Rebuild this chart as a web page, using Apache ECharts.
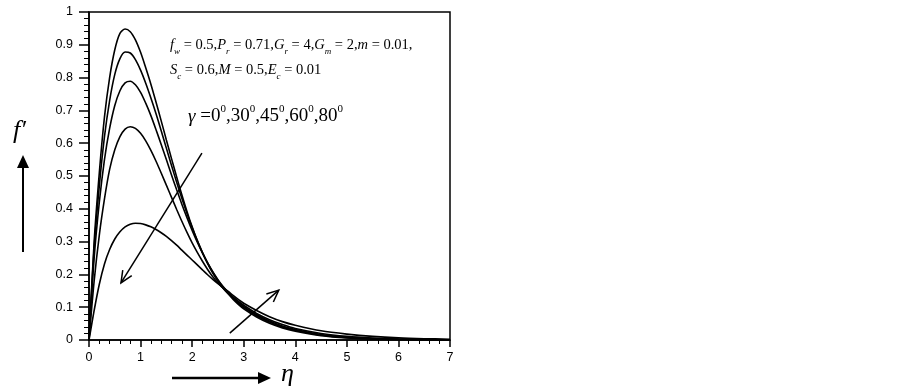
<!DOCTYPE html>
<html>
<head>
<meta charset="utf-8">
<style>html,body{margin:0;padding:0;background:#fff;}#c{width:903px;height:388px;}</style>
<script src="https://cdn.jsdelivr.net/npm/echarts@6/dist/echarts.min.js"></script>
</head>
<body>
<div id="c"></div>
<script>
// eta grid (x values)
var eta = [0, 0.1, 0.2, 0.3, 0.4, 0.5, 0.6, 0.7, 0.8, 0.9, 1.0, 1.1, 1.2, 1.3, 1.4, 1.5, 1.6, 1.7, 1.8, 1.9, 2.0, 2.1, 2.2, 2.3, 2.4, 2.5, 2.6, 2.7, 2.8, 2.9, 3.0, 3.25, 3.5, 3.75, 4.0, 4.5, 5.0, 5.5, 6.0, 6.5, 7.0];
// f' values for gamma = 0, 30, 45, 60, 80 degrees
var g0  = [0, 0.30, 0.51, 0.68, 0.80, 0.885, 0.935, 0.948, 0.94, 0.915, 0.877, 0.83, 0.78, 0.725, 0.668, 0.61, 0.553, 0.497, 0.443, 0.392, 0.345, 0.303, 0.266, 0.233, 0.204, 0.179, 0.158, 0.14, 0.123, 0.108, 0.095, 0.07, 0.051, 0.037, 0.027, 0.013, 0.006, 0.003, 0.0015, 0.0006, 0];
var g30 = [0, 0.28, 0.47, 0.62, 0.73, 0.81, 0.858, 0.878, 0.875, 0.855, 0.823, 0.783, 0.738, 0.69, 0.638, 0.585, 0.532, 0.481, 0.432, 0.386, 0.343, 0.303, 0.267, 0.235, 0.207, 0.182, 0.161, 0.143, 0.127, 0.112, 0.099, 0.074, 0.055, 0.04, 0.03, 0.015, 0.007, 0.0035, 0.0018, 0.0008, 0];
var g45 = [0, 0.25, 0.42, 0.55, 0.645, 0.715, 0.76, 0.784, 0.789, 0.778, 0.755, 0.722, 0.684, 0.641, 0.596, 0.55, 0.503, 0.458, 0.414, 0.373, 0.334, 0.298, 0.265, 0.235, 0.208, 0.184, 0.163, 0.145, 0.129, 0.115, 0.102, 0.077, 0.058, 0.043, 0.032, 0.017, 0.009, 0.0045, 0.0023, 0.001, 0];
var g60 = [0, 0.18, 0.32, 0.43, 0.52, 0.58, 0.62, 0.643, 0.65, 0.645, 0.63, 0.607, 0.578, 0.545, 0.509, 0.472, 0.435, 0.398, 0.362, 0.328, 0.296, 0.267, 0.24, 0.215, 0.193, 0.174, 0.158, 0.144, 0.13, 0.118, 0.106, 0.081, 0.062, 0.047, 0.035, 0.02, 0.011, 0.006, 0.003, 0.0014, 0.0005];
var g80 = [0, 0.09, 0.17, 0.232, 0.276, 0.308, 0.33, 0.345, 0.353, 0.356, 0.355, 0.351, 0.345, 0.337, 0.327, 0.316, 0.303, 0.289, 0.274, 0.259, 0.244, 0.229, 0.214, 0.199, 0.185, 0.172, 0.16, 0.148, 0.135, 0.123, 0.112, 0.09, 0.071, 0.056, 0.045, 0.028, 0.018, 0.011, 0.0065, 0.004, 0.0025];
var xTicks = ['0', '1', '2', '3', '4', '5', '6', '7'];
var yTicks = ['0', '0.1', '0.2', '0.3', '0.4', '0.5', '0.6', '0.7', '0.8', '0.9', '1'];
// annotation arrows inside the plot: [x1, y1, x2, y2] in data units (tail -> head)
var arrows = [[2.19, 0.57, 0.62, 0.174], [2.73, 0.021, 3.68, 0.152]];

function pairs(ys) { return eta.map(function (x, i) { return [x, ys[i]]; }); }
function curve(name, ys) {
  return { name: name, type: 'line', data: pairs(ys), smooth: 0.3, showSymbol: false, symbol: 'none',
    lineStyle: { color: '#000', width: 1.6 }, z: 3, silent: true };
}
var chart = echarts.init(document.getElementById('c'), null, { renderer: 'canvas' });
var serif = 'Liberation Serif';
function mkRich(fs) {
  return {
    i: { fontFamily: serif, fontStyle: 'italic', fontSize: fs, lineHeight: fs + 6, color: '#000' },
    n: { fontFamily: serif, fontSize: fs, lineHeight: fs + 6, color: '#000' },
    s: { fontFamily: serif, fontStyle: 'italic', fontSize: Math.round(fs * 0.62), lineHeight: fs + 6, verticalAlign: 'bottom', color: '#000' },
    u: { fontFamily: serif, fontSize: Math.round(fs * 0.6), lineHeight: fs + 6, verticalAlign: 'top', color: '#000' }
  };
}
chart.setOption({
  animation: false,
  backgroundColor: '#fff',
  grid: { left: 89, top: 12, right: 453, bottom: 48, show: true, borderColor: '#000', borderWidth: 1.5, containLabel: false },
  xAxis: {
    type: 'value', min: 0, max: 7, interval: 1,
    axisLine: { lineStyle: { color: '#000', width: 1.5 } },
    axisTick: { show: true, length: 7, lineStyle: { color: '#000', width: 1.5 } },
    minorTick: { show: true, splitNumber: 5, length: 4, lineStyle: { color: '#000', width: 1 } },
    splitLine: { show: false },
    axisLabel: { color: '#000', fontFamily: 'Liberation Sans', fontSize: 12.5, margin: 11,
      formatter: function (v) { return xTicks[Math.round(v)]; } }
  },
  yAxis: {
    type: 'value', min: 0, max: 1, interval: 0.1,
    axisLine: { lineStyle: { color: '#000', width: 1.5 } },
    axisTick: { show: true, length: 10, lineStyle: { color: '#000', width: 1.5 } },
    minorTick: { show: true, splitNumber: 5, length: 5, lineStyle: { color: '#000', width: 1 } },
    splitLine: { show: false },
    axisLabel: { color: '#000', fontFamily: 'Liberation Sans', fontSize: 12.5, margin: 16,
      formatter: function (v) { return yTicks[Math.round(v * 10)]; } }
  },
  series: [
    curve('γ=0°', g0), curve('γ=30°', g30), curve('γ=45°', g45), curve('γ=60°', g60), curve('γ=80°', g80),
    {
      type: 'custom', data: arrows, silent: true, z: 4,
      renderItem: function (params, api) {
        var a = api.coord([api.value(0), api.value(1)]);
        var b = api.coord([api.value(2), api.value(3)]);
        var ang = Math.atan2(b[1] - a[1], b[0] - a[0]);
        var L = 13, w = 0.42;
        var h1 = [b[0] - L * Math.cos(ang - w), b[1] - L * Math.sin(ang - w)];
        var h2 = [b[0] - L * Math.cos(ang + w), b[1] - L * Math.sin(ang + w)];
        return { type: 'group', children: [
          { type: 'line', shape: { x1: a[0], y1: a[1], x2: b[0], y2: b[1] }, style: { stroke: '#000', lineWidth: 1.5 } },
          { type: 'polyline', shape: { points: [h1, b, h2] }, style: { stroke: '#000', fill: null, lineWidth: 1.5 } }
        ] };
      }
    }
  ],
  graphic: [
    { type: 'text', left: 170, top: 38, style: { rich: mkRich(14.5),
      text: '{i|f}{s|w}{n| = 0.5,}{i|P}{s|r}{n| = 0.71,}{i|G}{s|r}{n| = 4,}{i|G}{s|m}{n| = 2,}{i|m}{n| = 0.01,}' } },
    { type: 'text', left: 170, top: 63, style: { rich: mkRich(14.5),
      text: '{i|S}{s|c}{n| = 0.6,}{i|M}{n| = 0.5,}{i|E}{s|c}{n| = 0.01}' } },
    { type: 'text', left: 188, top: 104, style: { rich: mkRich(19),
      text: '{i|γ}{n| =0}{u|0}{n|,30}{u|0}{n|,45}{u|0}{n|,60}{u|0}{n|,80}{u|0}' } },
    { type: 'text', left: 13, top: 118, style: { text: 'f′', fontFamily: serif, fontStyle: 'italic', fontSize: 26, fill: '#000' } },
    { type: 'line', shape: { x1: 23, y1: 252, x2: 23, y2: 165 }, style: { stroke: '#000', lineWidth: 2 } },
    { type: 'polygon', shape: { points: [[23, 155], [17, 168], [29, 168]] }, style: { fill: '#000' } },
    { type: 'line', shape: { x1: 172, y1: 378, x2: 260, y2: 378 }, style: { stroke: '#000', lineWidth: 2.5 } },
    { type: 'polygon', shape: { points: [[271, 378], [258, 372], [258, 384]] }, style: { fill: '#000' } },
    { type: 'text', left: 281, top: 361, style: { text: 'η', fontFamily: serif, fontStyle: 'italic', fontSize: 26, fill: '#000' } }
  ]
});
</script>
</body>
</html>
